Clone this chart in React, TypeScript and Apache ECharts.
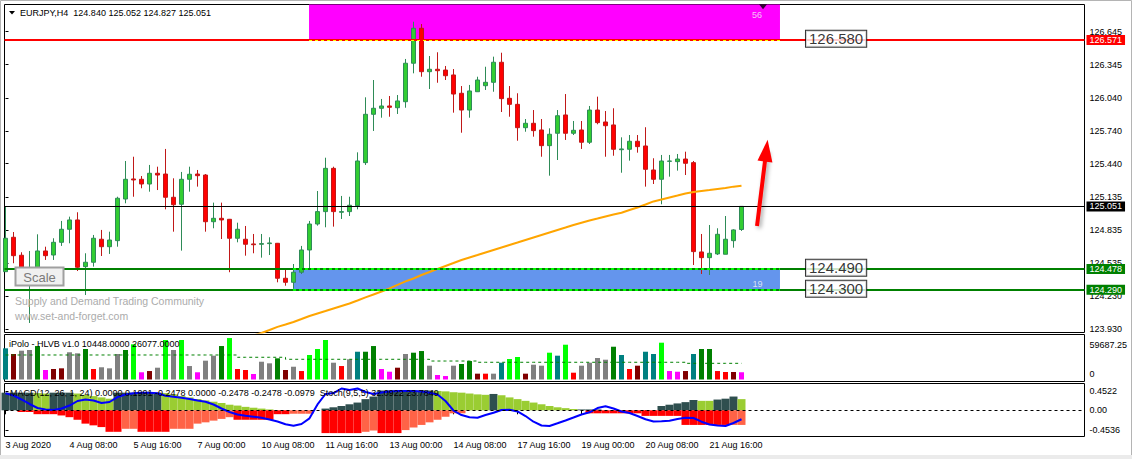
import React, { useEffect, useRef } from 'react';
import * as echarts from 'echarts';

const FONT = '"Liberation Sans", Arial, sans-serif';

const titleText = 'EURJPY,H4  124.840 125.052 124.827 125.051';
const volumeTitle = 'iPolo - HLVB v1.0 10448.0000 26077.0000';
const macdTitle = 'MACD(12, 26, 1, 24) 0.0000 0.1991 -0.2478 0.0000 -0.2478 -0.2478 -0.0979  Stoch(9,5,5) 32.0922 23.7849';

const priceTicks = [126.645, 126.345, 126.04, 125.74, 125.44, 125.135, 124.835, 124.535, 124.23, 123.93];
const timeLabels = ['3 Aug 2020', '4 Aug 08:00', '5 Aug 16:00', '7 Aug 00:00', '10 Aug 08:00', '11 Aug 16:00', '13 Aug 00:00', '14 Aug 08:00', '17 Aug 16:00', '19 Aug 00:00', '20 Aug 08:00', '21 Aug 16:00'];
const timeLabelIndex = [0, 8, 16, 24, 32, 40, 48, 56, 64, 72, 80, 88];
const macdTicks = [0.4522, 0, -0.4536];
const volumeTicks = ['59687.25', '0'];

// [open, high, low, close]
const candles = [
  [124.455, 125.045, 124.452, 124.760], [124.769, 124.817, 124.532, 124.601], [124.605, 124.632, 124.471, 124.486],
  [124.425, 124.644, 123.987, 124.434], [124.495, 124.796, 124.471, 124.644], [124.644, 124.683, 124.562, 124.601],
  [124.607, 124.760, 124.562, 124.723], [124.723, 124.918, 124.690, 124.842], [124.842, 124.957, 124.714, 124.927],
  [124.927, 124.997, 124.461, 124.495], [124.501, 124.623, 124.242, 124.541], [124.541, 124.790, 124.501, 124.760],
  [124.751, 124.836, 124.598, 124.683], [124.683, 124.820, 124.617, 124.744], [124.738, 125.139, 124.683, 125.125],
  [125.118, 125.465, 125.079, 125.298], [125.301, 125.504, 125.139, 125.292], [125.298, 125.328, 125.216, 125.255],
  [125.255, 125.429, 125.185, 125.353], [125.353, 125.413, 125.200, 125.337], [125.346, 125.575, 125.024, 125.134],
  [125.134, 125.307, 124.820, 125.066], [125.070, 125.365, 124.647, 125.298], [125.298, 125.413, 125.185, 125.344],
  [125.346, 125.383, 125.231, 125.331], [125.337, 125.346, 124.820, 124.911], [124.911, 125.085, 124.851, 124.942],
  [124.942, 125.085, 124.753, 124.927], [124.933, 124.936, 124.450, 124.760], [124.760, 124.902, 124.723, 124.842],
  [124.751, 124.872, 124.601, 124.705], [124.708, 124.799, 124.623, 124.701], [124.705, 124.799, 124.583, 124.711],
  [124.711, 124.769, 124.607, 124.717], [124.714, 124.717, 124.358, 124.395], [124.395, 124.477, 124.327, 124.358],
  [124.358, 124.525, 124.300, 124.450], [124.450, 124.690, 124.434, 124.653], [124.653, 124.918, 124.486, 124.890],
  [124.890, 125.191, 124.875, 125.003], [125.003, 125.495, 124.860, 125.398], [125.398, 125.413, 124.866, 125.003],
  [124.997, 125.146, 124.936, 125.003], [125.003, 125.139, 124.963, 125.061], [125.057, 125.544, 125.024, 125.465],
  [125.450, 126.046, 125.429, 125.891], [125.891, 126.204, 125.739, 125.946], [125.946, 126.031, 125.860, 125.967],
  [125.967, 126.058, 125.869, 125.955], [125.951, 126.067, 125.894, 126.013], [126.006, 126.396, 125.951, 126.357],
  [126.357, 126.736, 126.265, 126.676], [126.676, 126.715, 126.234, 126.280], [126.280, 126.423, 126.122, 126.302],
  [126.302, 126.457, 126.179, 126.289], [126.295, 126.332, 126.204, 126.243], [126.250, 126.304, 125.906, 126.076],
  [126.083, 126.149, 125.723, 125.930], [125.930, 126.159, 125.860, 126.104], [126.097, 126.234, 126.097, 126.204],
  [126.152, 126.325, 126.113, 126.183], [126.183, 126.417, 126.097, 126.366], [126.366, 126.453, 125.912, 126.034],
  [126.037, 126.149, 125.869, 125.982], [125.982, 126.083, 125.650, 125.769], [125.769, 125.848, 125.732, 125.809],
  [125.809, 125.930, 125.687, 125.742], [125.748, 125.848, 125.504, 125.605], [125.605, 125.763, 125.331, 125.709],
  [125.718, 125.930, 125.474, 125.878], [125.885, 126.076, 125.657, 125.718], [125.718, 125.830, 125.702, 125.745],
  [125.748, 125.830, 125.575, 125.636], [125.636, 125.967, 125.620, 125.930], [125.930, 126.052, 125.800, 125.815],
  [125.821, 125.921, 125.504, 125.787], [125.794, 125.946, 125.513, 125.572], [125.568, 125.681, 125.358, 125.575],
  [125.572, 125.702, 125.468, 125.645], [125.645, 125.702, 125.541, 125.596], [125.602, 125.773, 125.231, 125.389],
  [125.383, 125.490, 125.255, 125.298], [125.298, 125.520, 125.070, 125.465], [125.462, 125.520, 125.322, 125.465],
  [125.459, 125.529, 125.377, 125.483], [125.483, 125.550, 125.337, 125.444], [125.450, 125.465, 124.516, 124.638],
  [124.635, 124.799, 124.434, 124.583], [124.583, 124.881, 124.425, 124.623], [124.617, 124.851, 124.607, 124.796],
  [124.614, 124.963, 124.614, 124.751], [124.738, 124.842, 124.674, 124.836], [124.840, 125.052, 124.827, 125.051],
];

const maStart = 31;
const maValues = [
  123.873, 123.896, 123.923, 123.951, 123.973, 123.996, 124.023, 124.051, 124.074, 124.096,
  124.119, 124.142, 124.165, 124.192, 124.220, 124.247, 124.274, 124.302, 124.334, 124.366,
  124.393, 124.425, 124.452, 124.480, 124.507, 124.534, 124.562, 124.585, 124.607, 124.630,
  124.653, 124.676, 124.699, 124.721, 124.744, 124.767, 124.790, 124.813, 124.836, 124.858,
  124.881, 124.902, 124.922, 124.940, 124.959, 124.977, 124.993, 125.018, 125.041, 125.068,
  125.096, 125.114, 125.132, 125.150, 125.169, 125.182, 125.191, 125.200, 125.210, 125.219,
  125.231, 125.240,
];

const volumes = [
  44900, 36700, 41500, 42500, 48200, 13700, 15100, 16100, 39200, 37700,
  43900, 15100, 17600, 16100, 36700, 42500, 50700, 10400, 12200, 17000,
  56900, 42500, 56900, 19400, 10400, 27100, 34300, 48200, 59687, 15100,
  13700, 7900, 25600, 23300, 30500, 13700, 18400, 12200, 35300, 43900,
  56900, 24200, 19400, 29100, 40000, 40000, 48200, 15100, 11200, 17000,
  36700, 38600, 41000, 19900, 6500, 5000, 19900, 22300, 26600, 8400,
  8400, 8400, 24200, 29500, 32400, 8400, 21300, 19900, 38600, 34300,
  50100, 9800, 19900, 24200, 31000, 28500, 47200, 35300, 15100, 19900,
  40000, 36700, 53000, 12200, 11200, 12200, 36700, 43900, 43900, 12200,
  10800, 10800, 10448,
];
const volumeColors = [
  'T', 'M', 'G', 'G', 'N', 'P', 'M', 'M', 'G', 'G',
  'N', 'R', 'G', 'G', 'G', 'N', 'L', 'P', 'M', 'G',
  'L', 'G', 'L', 'G', 'P', 'G', 'G', 'N', 'L', 'R',
  'R', 'P', 'G', 'G', 'N', 'M', 'G', 'R', 'L', 'L',
  'L', 'G', 'R', 'G', 'T', 'N', 'N', 'P', 'P', 'M',
  'G', 'N', 'N', 'G', 'P', 'P', 'G', 'N', 'N', 'M',
  'R', 'G', 'T', 'L', 'L', 'M', 'G', 'G', 'L', 'T',
  'L', 'R', 'G', 'G', 'G', 'G', 'N', 'T', 'R', 'M',
  'T', 'T', 'L', 'P', 'P', 'M', 'T', 'N', 'N', 'R',
  'R', 'M', 'P',
];
// [firstIndex, lastIndex, average volume]
const volumeAvgSegments = [
  [0, 28, 35300], [29, 34, 32000], [35, 52, 29100], [53, 58, 26600], [59, 84, 24800], [85, 92, 23300],
];

const macdUp = [
  0.41, 0.41, 0.41, 0.41, 0.40, 0.39, 0.41, 0.41, 0.41, 0.39,
  0.36, 0.33, 0.30, 0.27, 0.41, 0.41, 0.41, 0.41, 0.41, 0.41,
  0.40, 0.37, 0.33, 0.30, 0.26, 0.23, 0.20, 0.17, 0.13, 0.11,
  0.08, 0.06, 0.04, 0.02, 0, 0, 0, 0, 0, 0,
  0.04, 0.07, 0.10, 0.14, 0.18, 0.26, 0.32, 0.46, 0.46, 0.46,
  0.46, 0.46, 0.46, 0.46, 0.45, 0.44, 0.42, 0.41, 0.39, 0.37,
  0.36, 0.38, 0.35, 0.30, 0.26, 0.22, 0.18, 0.14, 0.10, 0.07,
  0.05, 0.03, 0.02, 0.02, 0.02, 0, 0, 0, 0, 0,
  0, 0, 0.10, 0.13, 0.16, 0.19, 0.24, 0.22, 0.22, 0.25,
  0.27, 0.32, 0.26,
];
const macdUpColors = [
  'D', 'D', 'D', 'D', 'Y', 'Y', 'D', 'D', 'D', 'Y',
  'Y', 'Y', 'Y', 'Y', 'D', 'D', 'D', 'D', 'D', 'D',
  'Y', 'Y', 'Y', 'Y', 'Y', 'Y', 'Y', 'Y', 'Y', 'Y',
  'Y', 'Y', 'Y', 'Y', 'D', 'D', 'D', 'D', 'D', 'D',
  'D', 'D', 'D', 'D', 'D', 'D', 'D', 'D', 'D', 'D',
  'D', 'D', 'D', 'D', 'Y', 'Y', 'Y', 'Y', 'Y', 'Y',
  'Y', 'D', 'Y', 'Y', 'Y', 'Y', 'Y', 'Y', 'Y', 'Y',
  'Y', 'Y', 'D', 'D', 'D', 'D', 'D', 'D', 'D', 'D',
  'D', 'D', 'D', 'D', 'D', 'D', 'D', 'Y', 'Y', 'D',
  'D', 'D', 'Y',
];
const macdDown = [
  0, 0, -0.04, -0.04, -0.09, -0.09, -0.09, -0.12, -0.16, -0.22,
  -0.31, -0.35, -0.39, -0.50, -0.50, -0.43, -0.43, -0.50, -0.50, -0.50,
  -0.50, -0.43, -0.43, -0.43, -0.31, -0.28, -0.24, -0.20, -0.16, -0.22,
  -0.22, -0.22, -0.22, -0.22, -0.09, -0.09, -0.08, -0.08, -0.08, 0,
  -0.53, -0.53, -0.53, -0.53, -0.53, -0.50, -0.47, -0.53, -0.53, -0.53,
  -0.46, -0.40, -0.34, -0.28, -0.22, -0.15, -0.07, -0.07, 0, 0,
  0, 0, 0, 0, 0, 0, 0, 0, 0, 0,
  0, 0, 0, -0.07, -0.07, -0.07, -0.07, -0.07, -0.07, -0.07,
  -0.13, -0.13, -0.13, -0.13, -0.13, -0.34, -0.34, -0.34, -0.34, -0.34,
  -0.34, -0.34, -0.34,
];
const macdDownColors = [
  'R', 'R', 'R', 'R', 'R', 'R', 'R', 'R', 'R', 'R',
  'R', 'R', 'R', 'R', 'R', 'T', 'T', 'R', 'R', 'R',
  'R', 'T', 'T', 'T', 'T', 'T', 'T', 'T', 'T', 'R',
  'R', 'R', 'R', 'R', 'R', 'R', 'T', 'T', 'T', 'R',
  'R', 'R', 'R', 'R', 'R', 'T', 'T', 'R', 'R', 'R',
  'T', 'T', 'T', 'T', 'T', 'T', 'T', 'T', 'R', 'R',
  'R', 'R', 'R', 'R', 'R', 'R', 'R', 'R', 'R', 'R',
  'R', 'R', 'R', 'R', 'R', 'R', 'R', 'R', 'R', 'R',
  'R', 'R', 'R', 'R', 'R', 'R', 'R', 'R', 'R', 'R',
  'R', 'T', 'T',
];
const stochValues = [
  87.1, 81.7, 72.0, 61.0, 51.2, 47.6, 46.3, 50.0, 57.3, 68.3,
  72.0, 69.5, 63.4, 65.9, 78.0, 84.1, 87.1, 88.3, 88.3, 87.1,
  81.0, 78.5, 76.1, 73.2, 69.5, 66.6, 59.8, 50.0, 41.5, 35.4,
  32.2, 30.0, 27.3, 23.2, 18.3, 11.5, 8.0, 12.2, 26.0, 60.0,
  85.4, 87.8, 98.8, 95.1, 98.8, 90.2, 85.4, 89.0, 91.5, 92.7,
  92.7, 92.7, 91.5, 88.5, 84.1, 68.3, 45.1, 34.1, 28.5, 27.6,
  34.1, 39.8, 46.3, 46.8, 42.7, 31.7, 17.8, 8.5, 7.3, 13.9,
  20.7, 28.0, 35.4, 40.7, 51.2, 55.4, 50.0, 42.7, 39.0, 31.7,
  23.7, 18.3, 19.0, 20.2, 24.4, 27.3, 26.8, 17.8, 11.0, 8.5,
  7.3, 14.6, 23.8,
];

// price levels: [price, colour, width]
const levelLines = [
  [126.571, '#FF0000', 2],
  [125.051, '#000000', 1],
  [124.478, '#008000', 2],
  [124.29, '#008000', 2],
];
// zones in bar-index / price units
const supplyZone = { from: 37.94, to: 96.81, low: 126.571, high: 126.893, count: '56', countAt: [93.94, 126.797] };
const demandZone = { from: 35.94, to: 96.81, low: 124.29, high: 124.478, count: '19', countAt: [93.99, 124.343] };
const zoneTags = [
  { at: 100.06, price: 126.58, text: '126.580' },
  { at: 100.06, price: 124.49, text: '124.490' },
  { at: 100.06, price: 124.3, text: '124.300' },
];
const arrowFrom = [93.94, 124.872];
const arrowTo = [95.1, 125.56];
const anchorMark = [94.69, 126.872];

const volPalette: Record<string, string> = {
  T: '#008080', M: '#800000', G: '#808080', N: '#008000', P: '#FF00FF', R: '#FF0000', L: '#00FF00',
};
const macdPalette: Record<string, string> = { D: '#2F4F4F', Y: '#9ACD32', R: '#FF0000', T: '#FF6347' };

const X_MIN = -0.125;
const X_MAX = 134.875;

export default function App() {
  const ref = useRef<HTMLDivElement>(null);

  useEffect(() => {
    document.body.style.margin = '0';
    const chart = echarts.init(ref.current!, undefined, { renderer: 'svg' });

    const volumeAvgData: number[][] = [];
    volumeAvgSegments.forEach(([a, b, v]) => {
      for (let i = a; i <= b; i++) volumeAvgData.push([i, v]);
    });

    const hiddenX = (grid: number) => ({
      type: 'value', gridIndex: grid, min: X_MIN, max: X_MAX,
      axisLine: { show: false }, axisTick: { show: false }, axisLabel: { show: false }, splitLine: { show: false },
    });

    const levelLabel = (text: string, bg: string) => ({
      show: true, position: 'end', formatter: text, distance: 2,
      backgroundColor: bg, color: '#FFFFFF', padding: [1, 3, 0, 3],
      fontSize: 9, fontFamily: FONT,
    });

    const option: any = {
      animation: false,
      backgroundColor: '#FFFFFF',
      grid: [
        { left: 4.5, top: 4.5, width: 1080, height: 328, show: true, borderColor: '#000', borderWidth: 1, backgroundColor: 'transparent' },
        { left: 4.5, top: 334.5, width: 1080, height: 47, show: true, borderColor: '#000', borderWidth: 1, backgroundColor: 'transparent' },
        { left: 4.5, top: 383.5, width: 1080, height: 53, show: true, borderColor: '#000', borderWidth: 1, backgroundColor: 'transparent' },
      ],
      xAxis: [
        hiddenX(0),
        hiddenX(1),
        {
          type: 'value', gridIndex: 2, min: X_MIN, max: X_MAX,
          axisLine: { show: false },
          splitLine: { show: false },
          axisTick: { show: true, customValues: timeLabelIndex, length: 4, lineStyle: { color: '#000' } },
          axisLabel: {
            show: true, customValues: timeLabelIndex, align: 'left', margin: 4,
            fontSize: 9, fontFamily: FONT, color: '#000',
            formatter: (v: number) => timeLabels[timeLabelIndex.indexOf(Math.round(v))] ?? '',
          },
        },
      ],
      yAxis: [
        {
          type: 'value', gridIndex: 0, position: 'right', min: 123.9, max: 126.893,
          axisLine: { show: false }, splitLine: { show: false },
          axisTick: { show: true, customValues: priceTicks, length: 3, lineStyle: { color: '#000' } },
          axisLabel: {
            show: true, customValues: priceTicks, margin: 5, fontSize: 9, fontFamily: FONT, color: '#000',
            formatter: (v: number) => v.toFixed(3),
          },
        },
        { type: 'value', gridIndex: 1, min: -2880, max: 64800, show: false, splitLine: { show: false } },
        {
          type: 'value', gridIndex: 2, position: 'right', min: -0.609, max: 0.623,
          axisLine: { show: false }, splitLine: { show: false },
          axisTick: { show: true, customValues: macdTicks, length: 3, lineStyle: { color: '#000' } },
          axisLabel: {
            show: true, customValues: macdTicks, margin: 5, fontSize: 9, fontFamily: FONT, color: '#000',
            formatter: (v: number) => (Math.abs(v) < 1e-9 ? '0.00' : v.toFixed(4)),
          },
        },
        { type: 'value', gridIndex: 2, min: -18.3, max: 111, show: false, splitLine: { show: false } },
      ],
      series: [
        {
          name: 'MA', type: 'line', xAxisIndex: 0, yAxisIndex: 0, symbol: 'none', silent: true,
          data: maValues.map((v, k) => [maStart + k, v]),
          lineStyle: { color: '#FFA500', width: 2 },
        },
        {
          name: 'EURJPY', type: 'candlestick', xAxisIndex: 0, yAxisIndex: 0, silent: true,
          encode: { x: 0, y: [1, 2, 3, 4] },
          barWidth: 5,
          data: candles.map((c, i) => [i, c[0], c[3], c[2], c[1]]),
          itemStyle: { color: '#32CD32', color0: '#FF0000', borderColor: '#2E8B57', borderColor0: '#C01818', borderWidth: 1 },
          markArea: {
            silent: true,
            data: [
              [
                { coord: [supplyZone.from, supplyZone.low], itemStyle: { color: '#FF00FF' } },
                { coord: [supplyZone.to, supplyZone.high] },
              ],
              [
                { coord: [demandZone.from, demandZone.low], itemStyle: { color: '#6495ED' } },
                { coord: [demandZone.to, demandZone.high] },
              ],
            ],
          },
          markLine: {
            silent: true, symbol: 'none', label: { show: false },
            data: [
              ...levelLines.map(([p, c, w]) => ({
                yAxis: p, lineStyle: { color: c, width: w, type: 'solid' },
                label: levelLabel((p as number).toFixed(3), c as string),
              })),
              [
                { coord: [supplyZone.from, supplyZone.low], lineStyle: { color: '#FFFF00', width: 1, type: [3, 3] } },
                { coord: [supplyZone.to, supplyZone.low] },
              ],
              [
                { coord: [demandZone.from, demandZone.high], lineStyle: { color: '#00FF00', width: 2, type: [3, 3] } },
                { coord: [demandZone.to, demandZone.high] },
              ],
              [
                { coord: [demandZone.from, demandZone.low], lineStyle: { color: '#00FF00', width: 2, type: [3, 3] } },
                { coord: [demandZone.to, demandZone.low] },
              ],
              [
                {
                  coord: arrowFrom, symbol: 'none',
                  lineStyle: { color: '#FF0000', width: 4, type: 'solid', shadowBlur: 4, shadowColor: 'rgba(0,0,0,0.35)', shadowOffsetX: 2, shadowOffsetY: 2 },
                },
                { coord: arrowTo, symbol: 'triangle', symbolSize: [15, 22] },
              ],
            ],
          },
        },
        {
          name: 'tags', type: 'scatter', xAxisIndex: 0, yAxisIndex: 0, silent: true, symbolSize: 0, z: 6,
          data: zoneTags.map((t) => ({ value: [t.at, t.price], label: { formatter: t.text } })),
          label: {
            show: true, position: 'right', distance: 0, fontSize: 15, fontFamily: FONT, color: '#000',
            backgroundColor: '#FFFFFF', borderColor: '#000', borderWidth: 1, padding: [1, 3, 0, 3],
          },
        },
        {
          name: 'zoneCounts', type: 'scatter', xAxisIndex: 0, yAxisIndex: 0, silent: true, symbolSize: 0, z: 6,
          data: [supplyZone, demandZone].map((z) => ({ value: z.countAt, label: { formatter: z.count } })),
          label: { show: true, position: 'inside', fontSize: 9, fontFamily: FONT, color: '#F4F4F4' },
        },
        {
          name: 'anchor', type: 'scatter', xAxisIndex: 0, yAxisIndex: 0, silent: true, z: 6,
          symbol: 'triangle', symbolRotate: 180, symbolSize: [8, 5],
          itemStyle: { color: '#000' },
          data: [anchorMark],
        },
        {
          name: 'volume', type: 'bar', xAxisIndex: 1, yAxisIndex: 1, barWidth: 5, silent: true,
          data: volumes.map((v, i) => ({ value: [i, v], itemStyle: { color: volPalette[volumeColors[i]] } })),
        },
        {
          name: 'volumeAvg', type: 'line', xAxisIndex: 1, yAxisIndex: 1, symbol: 'none', step: 'end', silent: true,
          data: volumeAvgData,
          lineStyle: { color: '#008000', width: 1, type: [3, 3] },
        },
        {
          name: 'macdUp', type: 'bar', xAxisIndex: 2, yAxisIndex: 2, stack: 'macd', barWidth: 8, silent: true,
          data: macdUp.map((v, i) => ({ value: [i, v], itemStyle: { color: macdPalette[macdUpColors[i]] } })),
          markLine: {
            silent: true, symbol: 'none', label: { show: false },
            data: [{ yAxis: 0, lineStyle: { color: '#000', width: 1, type: [3, 3] } }],
          },
        },
        {
          name: 'macdDown', type: 'bar', xAxisIndex: 2, yAxisIndex: 2, stack: 'macd', barWidth: 8, silent: true,
          data: macdDown.map((v, i) => ({ value: [i, v], itemStyle: { color: macdPalette[macdDownColors[i]] } })),
        },
        {
          name: 'stoch', type: 'line', xAxisIndex: 2, yAxisIndex: 3, symbol: 'none', silent: true,
          data: stochValues.map((v, i) => [i, v]),
          lineStyle: { color: '#0000FF', width: 2 },
          z: 4,
        },
      ],
      graphic: [
        { type: 'rect', silent: true, z: 100, shape: { x: 0.5, y: 0.5, width: 1131, height: 458 }, style: { fill: 'none', stroke: '#B4B4B4', lineWidth: 1 } },
        { type: 'rect', silent: true, z: 100, shape: { x: 0, y: 455, width: 1132, height: 4 }, style: { fill: '#EBEBEB' } },
        { type: 'polygon', silent: true, z: 100, shape: { points: [[9, 11], [15, 11], [12, 14.5]] }, style: { fill: '#000' } },
        { type: 'text', silent: true, z: 100, x: 20, y: 13, style: { text: titleText, fill: '#000', fontSize: 9, fontFamily: FONT, verticalAlign: 'middle' } },
        { type: 'rect', silent: true, z: 100, shape: { x: 15.5, y: 267.5, width: 48, height: 18 }, style: { fill: '#F0F0F0', stroke: '#A0A0A0', lineWidth: 2 } },
        { type: 'text', silent: true, z: 101, x: 39.5, y: 277, style: { text: 'Scale', fill: '#7A7A7A', fontSize: 13, fontFamily: FONT, align: 'center', verticalAlign: 'middle' } },
        { type: 'text', silent: true, z: 100, x: 15, y: 301, style: { text: 'Supply and Demand Trading Community', fill: '#ABABAB', fontSize: 10.5, fontFamily: FONT, verticalAlign: 'middle' } },
        { type: 'text', silent: true, z: 100, x: 15, y: 316, style: { text: 'www.set-and-forget.com', fill: '#ABABAB', fontSize: 10.5, fontFamily: FONT, verticalAlign: 'middle' } },
        { type: 'text', silent: true, z: 100, x: 9, y: 343.5, style: { text: volumeTitle, fill: '#000', fontSize: 9, fontFamily: FONT, verticalAlign: 'middle' } },
        { type: 'text', silent: true, z: 100, x: 10, y: 392.5, style: { text: macdTitle, fill: '#000', fontSize: 9, fontFamily: FONT, verticalAlign: 'middle' } },
        { type: 'text', silent: true, z: 100, x: 1089.5, y: 345, style: { text: volumeTicks[0], fill: '#000', fontSize: 9, fontFamily: FONT, verticalAlign: 'middle' } },
        { type: 'text', silent: true, z: 100, x: 1089.5, y: 374, style: { text: volumeTicks[1], fill: '#000', fontSize: 9, fontFamily: FONT, verticalAlign: 'middle' } },
      ],
    };

    chart.setOption(option);
    return () => chart.dispose();
  }, []);

  return <div ref={ref} style={{ position: 'absolute', left: 0, top: 0, width: 1132, height: 459 }} />;
}
